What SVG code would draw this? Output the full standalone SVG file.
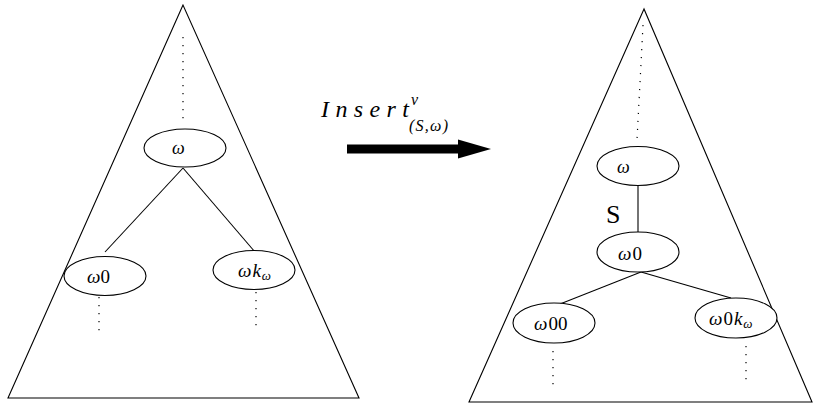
<svg xmlns="http://www.w3.org/2000/svg" width="813" height="405" viewBox="0 0 813 405">
<style>
.tri{fill:none;stroke:#000;stroke-width:1.1}
.node ellipse{fill:#fff;stroke:#000;stroke-width:1.1}
.edge{stroke:#000;stroke-width:1.1;fill:none}
.dot{stroke:#000;stroke-width:1.2;stroke-dasharray:1.2 6.8;fill:none}
.t{font-family:'Liberation Serif',serif;fill:#000}
.it{font-style:italic}
</style>
<rect width="813" height="405" fill="#fff"/>
<g id="tree-left">
<polygon class="tri" points="183,5 8,398 359,398"/>
</g>
<g id="tree-right">
<polygon class="tri" points="644,9 469,402 812,402"/>
</g>
<g id="connectors">
<line class="dot" x1="183" y1="37" x2="183" y2="121"/>
<line class="edge" x1="183" y1="168" x2="105" y2="252"/>
<line class="edge" x1="183" y1="168" x2="255" y2="252"/>
<line class="dot" x1="99" y1="297" x2="99" y2="334"/>
<line class="dot" x1="256" y1="292" x2="256" y2="328"/>
<line class="dot" x1="643" y1="25" x2="637" y2="140"/>
<line class="edge" x1="638" y1="186" x2="638" y2="233"/>
<line class="edge" x1="641" y1="272" x2="560" y2="304"/>
<line class="edge" x1="641" y1="272" x2="731" y2="298"/>
<line class="dot" x1="553" y1="351" x2="553" y2="388"/>
<line class="dot" x1="746" y1="346" x2="746" y2="382"/>
<text class="t" x="606" y="223" font-size="26">S</text>
</g>
<g id="arrow">
<rect x="347" y="144.5" width="113" height="9" fill="#000"/>
<polygon points="458,139.5 491,149 458,158.5" fill="#000"/>
<text class="t it" x="321" y="117" font-size="24" textLength="88" lengthAdjust="spacing">Insert</text>
<text class="t it" x="411" y="105" font-size="16">v</text>
<text class="t it" x="409" y="131" font-size="16" textLength="39" lengthAdjust="spacing">(S,ω)</text>
</g>
<g id="n-left-w" class="node">
<ellipse cx="185" cy="148" rx="41" ry="19"/>
<text class="t it" x="172" y="154" font-size="18">ω</text>
</g>
<g id="n-left-w0" class="node">
<ellipse cx="105" cy="276" rx="41" ry="19.5"/>
<text class="t" x="87" y="283" font-size="19"><tspan class="it">ω</tspan>0</text>
</g>
<g id="n-left-wk" class="node">
<ellipse cx="254" cy="270" rx="41" ry="19.5"/>
<text class="t it" x="238" y="277" font-size="19">ω<tspan dx="1">k</tspan><tspan dx="1" dy="3" font-size="13">ω</tspan></text>
</g>
<g id="n-right-w" class="node">
<ellipse cx="638" cy="166" rx="41" ry="19.5"/>
<text class="t it" x="617" y="173" font-size="18">ω</text>
</g>
<g id="n-right-w0" class="node">
<ellipse cx="638" cy="252" rx="41" ry="20"/>
<text class="t" x="618" y="260" font-size="19"><tspan class="it">ω</tspan><tspan dx="1">0</tspan></text>
</g>
<g id="n-right-w00" class="node">
<ellipse cx="554" cy="323" rx="41" ry="20"/>
<text class="t" x="534" y="330" font-size="19"><tspan class="it">ω</tspan><tspan dx="1">00</tspan></text>
</g>
<g id="n-right-w0k" class="node">
<ellipse cx="736" cy="318" rx="41" ry="20"/>
<text class="t" x="709" y="325" font-size="19"><tspan class="it">ω</tspan><tspan dx="1">0</tspan><tspan class="it" dx="1">k</tspan><tspan class="it" dx="1" dy="3" font-size="13">ω</tspan></text>
</g>
</svg>
